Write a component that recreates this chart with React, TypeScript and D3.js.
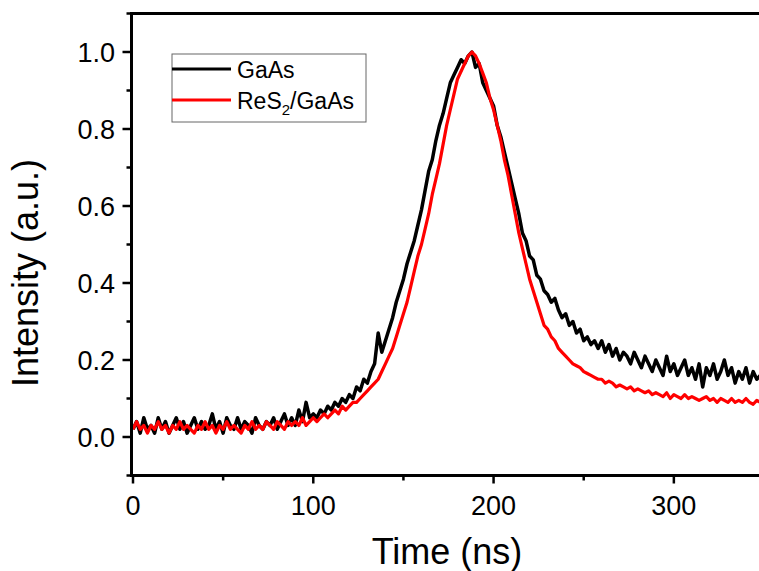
import React, { useEffect, useRef } from 'react';
import * as d3 from 'd3';

// sampled every 2 ns, starting at 0 ns
const STEP_NS = 2;

const gaas = [
  0.02, 0.04, 0.01, 0.05, 0.02, 0.03, 0.01, 0.05, 0.02, 0.04,
  0.01, 0.03, 0.05, 0.02, 0.04, 0.01, 0.03, 0.05, 0.02, 0.04,
  0.02, 0.03, 0.06, 0.02, 0.04, 0.01, 0.05, 0.03, 0.02, 0.05,
  0.02, 0.04, 0.03, 0.01, 0.05, 0.03, 0.02, 0.04, 0.03, 0.05,
  0.02, 0.04, 0.06, 0.03, 0.05, 0.03,
  0.07, 0.04, 0.09, 0.05, 0.06, 0.05, 0.07, 0.06, 0.08, 0.07,
  0.09, 0.08, 0.10, 0.09, 0.11, 0.10, 0.13, 0.12, 0.15, 0.14,
  0.17, 0.19, 0.27, 0.22, 0.25, 0.28, 0.31, 0.35, 0.38, 0.41,
  0.45, 0.48, 0.51, 0.55, 0.59, 0.64, 0.69, 0.72, 0.77, 0.81,
  0.84, 0.88, 0.92, 0.94, 0.96, 0.98, 0.97, 0.99, 1.0, 0.96,
  0.97, 0.92, 0.90, 0.88, 0.86, 0.81, 0.78, 0.74, 0.70, 0.66,
  0.62, 0.58, 0.53, 0.51, 0.47, 0.46, 0.42, 0.41, 0.38, 0.37,
  0.35, 0.36, 0.33, 0.31, 0.32, 0.29, 0.30, 0.27, 0.28, 0.25,
  0.26, 0.24, 0.25, 0.23, 0.25, 0.22, 0.24, 0.21, 0.23, 0.20,
  0.22, 0.21, 0.19, 0.22, 0.20, 0.18, 0.21, 0.19, 0.17, 0.20,
  0.18, 0.16, 0.21, 0.17, 0.19, 0.16, 0.18, 0.20, 0.16, 0.18,
  0.15, 0.19, 0.13, 0.18, 0.16, 0.19, 0.15, 0.17, 0.20, 0.16,
  0.18, 0.14, 0.17, 0.15, 0.18, 0.14, 0.17, 0.15, 0.16,
];

const res2Gaas = [
  0.02, 0.04, 0.02, 0.03, 0.01, 0.03, 0.02, 0.04, 0.02, 0.03,
  0.01, 0.03, 0.02, 0.04, 0.02, 0.03, 0.02, 0.01, 0.03, 0.02,
  0.04, 0.02, 0.03, 0.01, 0.03, 0.02, 0.04, 0.02, 0.03, 0.02,
  0.01, 0.03, 0.02, 0.04, 0.02, 0.03, 0.02, 0.04, 0.03, 0.02,
  0.04, 0.03, 0.02, 0.04, 0.03, 0.04,
  0.03, 0.05, 0.03, 0.04, 0.05, 0.04, 0.05, 0.06, 0.05, 0.06,
  0.07, 0.06, 0.08, 0.07, 0.08, 0.09, 0.09, 0.10, 0.11, 0.12,
  0.13, 0.14, 0.15, 0.17, 0.19, 0.21, 0.23, 0.26, 0.29, 0.32,
  0.35, 0.39, 0.43, 0.47, 0.50, 0.54, 0.58, 0.63, 0.67, 0.71,
  0.76, 0.81, 0.85, 0.89, 0.93, 0.95, 0.97, 0.99, 1.0, 0.99,
  0.97, 0.945, 0.92, 0.88, 0.85, 0.81, 0.77, 0.72, 0.68, 0.63,
  0.58, 0.53, 0.49, 0.45, 0.41, 0.38, 0.35, 0.32, 0.29, 0.28,
  0.26, 0.25, 0.23, 0.22, 0.21, 0.20, 0.19, 0.185, 0.18, 0.17,
  0.165, 0.16, 0.155, 0.15, 0.15, 0.14, 0.145, 0.14, 0.13, 0.135,
  0.13, 0.125, 0.13, 0.12, 0.125, 0.12, 0.115, 0.12, 0.11, 0.115,
  0.11, 0.105, 0.115, 0.10, 0.11, 0.105, 0.10, 0.11, 0.10, 0.105,
  0.10, 0.095, 0.10, 0.105, 0.095, 0.10, 0.09, 0.10, 0.095, 0.09,
  0.10, 0.09, 0.095, 0.09, 0.10, 0.09, 0.085, 0.095, 0.09,
];

const xTicks = [0, 100, 200, 300];
const xMinor = [50, 150, 250, 350];
const yTicks = [0, 0.2, 0.4, 0.6, 0.8, 1.0];
const yMinor = [-0.1, 0.1, 0.3, 0.5, 0.7, 0.9, 1.1];

const series = [
  { name: 'GaAs', values: gaas, color: '#000000', width: 3.5 },
  { name: 'ReS2/GaAs', values: res2Gaas, color: '#ff0000', width: 3.2 },
];

const FONT = '"Liberation Sans", Arial, sans-serif';

const App = () => {
  const ref = useRef<SVGSVGElement>(null);

  useEffect(() => {
    const svg = d3.select(ref.current);
    svg.selectAll('*').remove();

    const x = d3.scaleLinear().domain([0, 350]).range([133, 764]);
    const y = d3.scaleLinear().domain([-0.1, 1.1]).range([475.5, 13.5]);
    const left = 131.5;
    const bottom = y(-0.1);
    const top = y(1.1);

    svg.append('clipPath').attr('id', 'plot-clip')
      .append('rect')
      .attr('x', left).attr('y', top)
      .attr('width', 764 - left).attr('height', bottom - top);

    const line = d3.line<number>()
      .x((d, i) => x(i * STEP_NS))
      .y((d) => y(d));

    series.forEach((s) => {
      svg.append('path')
        .datum(s.values)
        .attr('d', line)
        .attr('fill', 'none')
        .attr('stroke', s.color)
        .attr('stroke-width', s.width)
        .attr('stroke-linejoin', 'round')
        .attr('clip-path', 'url(#plot-clip)');
    });

    // frame
    svg.append('line')
      .attr('x1', left).attr('x2', 764).attr('y1', top).attr('y2', top)
      .attr('stroke', '#000').attr('stroke-width', 3);
    svg.append('line')
      .attr('x1', left).attr('x2', left).attr('y1', top - 1.5).attr('y2', bottom + 1.5)
      .attr('stroke', '#000').attr('stroke-width', 3);
    svg.append('line')
      .attr('x1', left - 1.5).attr('x2', 764).attr('y1', bottom).attr('y2', bottom)
      .attr('stroke', '#000').attr('stroke-width', 3);

    // x ticks
    svg.selectAll('.xmaj').data(xTicks).enter().append('line')
      .attr('x1', (d) => x(d)).attr('x2', (d) => x(d))
      .attr('y1', bottom).attr('y2', bottom + 8)
      .attr('stroke', '#000').attr('stroke-width', 2.5);
    svg.selectAll('.xmin').data(xMinor).enter().append('line')
      .attr('x1', (d) => x(d)).attr('x2', (d) => x(d))
      .attr('y1', bottom).attr('y2', bottom + 5)
      .attr('stroke', '#000').attr('stroke-width', 2.5);
    svg.selectAll('.xlab').data(xTicks).enter().append('text')
      .attr('x', (d) => x(d)).attr('y', 515)
      .attr('text-anchor', 'middle')
      .style('font', `27px ${FONT}`)
      .text((d) => d);

    // y ticks
    svg.selectAll('.ymaj').data(yTicks).enter().append('line')
      .attr('x1', left - 9).attr('x2', left)
      .attr('y1', (d) => y(d)).attr('y2', (d) => y(d))
      .attr('stroke', '#000').attr('stroke-width', 2.5);
    svg.selectAll('.ymin').data(yMinor).enter().append('line')
      .attr('x1', left - 5).attr('x2', left)
      .attr('y1', (d) => y(d)).attr('y2', (d) => y(d))
      .attr('stroke', '#000').attr('stroke-width', 2.5);
    svg.selectAll('.ylab').data(yTicks).enter().append('text')
      .attr('x', 115).attr('y', (d) => y(d))
      .attr('dy', '0.36em')
      .attr('text-anchor', 'end')
      .style('font', `27px ${FONT}`)
      .text((d) => d3.format('.1f')(d));

    // axis titles
    svg.append('text')
      .attr('x', 447).attr('y', 564)
      .attr('text-anchor', 'middle')
      .style('font', `36px ${FONT}`)
      .text('Time (ns)');
    svg.append('text')
      .attr('transform', 'translate(38,273) rotate(-90)')
      .attr('text-anchor', 'middle')
      .style('font', `36px ${FONT}`)
      .text('Intensity (a.u.)');

    // legend
    const lg = svg.append('g');
    lg.append('rect')
      .attr('x', 172).attr('y', 54).attr('width', 194).attr('height', 68)
      .attr('fill', '#fff').attr('stroke', '#666').attr('stroke-width', 1);
    [69, 100].forEach((ly, i) => {
      lg.append('line')
        .attr('x1', 172).attr('x2', 231).attr('y1', ly).attr('y2', ly)
        .attr('stroke', series[i].color).attr('stroke-width', 3);
    });
    lg.append('text')
      .attr('x', 237).attr('y', 78)
      .style('font', `23px ${FONT}`)
      .text('GaAs');
    const t2 = lg.append('text')
      .attr('x', 237).attr('y', 109)
      .style('font', `23px ${FONT}`);
    t2.append('tspan').text('ReS');
    t2.append('tspan').attr('dy', 6).style('font-size', '15px').text('2');
    t2.append('tspan').attr('dy', -6).text('/GaAs');
  }, []);

  return (
    <svg
      ref={ref}
      width={759}
      height={571}
      style={{ position: 'absolute', left: 0, top: 0, background: '#fff' }}
    />
  );
};

export default App;
